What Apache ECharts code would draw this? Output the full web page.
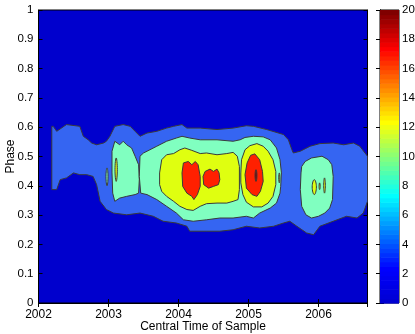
<!DOCTYPE html>
<html>
<head>
<meta charset="utf-8">
<script src="https://cdn.jsdelivr.net/npm/echarts@6/dist/echarts.min.js"></script>
<style>
  html, body { margin: 0; padding: 0; background: #fff; }
  #chart { width: 415px; height: 334px; }
</style>
</head>
<body>
<div id="chart"></div>
<script>
// contour outlines, [year, phase]
const contour1 = [[
  [2002.19, .603], [2002.21, .603], [2002.26, .586], [2002.40, .609], [2002.59, .603], [2002.64, .569],
  [2002.71, .557], [2002.76, .546], [2002.83, .540], [2002.93, .546], [2002.97, .552], [2003.02, .569],
  [2003.09, .603], [2003.21, .609], [2003.31, .603], [2003.38, .586], [2003.45, .569], [2003.55, .580],
  [2003.69, .586], [2003.83, .597], [2003.93, .603], [2004.05, .609], [2004.12, .597], [2004.31, .597],
  [2004.55, .592], [2004.78, .597], [2004.97, .605], [2005.07, .603], [2005.26, .592], [2005.50, .575],
  [2005.57, .557], [2005.62, .523], [2005.64, .512], [2005.74, .518], [2005.88, .535], [2006.02, .544],
  [2006.21, .546], [2006.36, .540], [2006.50, .546], [2006.59, .535], [2006.70, .501],
  [2006.70, .347], [2006.64, .307], [2006.55, .290], [2006.40, .296], [2006.21, .279], [2006.02, .262],
  [2005.93, .233], [2005.83, .239], [2005.69, .262], [2005.59, .279], [2005.50, .273], [2005.36, .262],
  [2005.16, .256], [2004.97, .262], [2004.78, .250], [2004.59, .245], [2004.40, .245], [2004.16, .245],
  [2004.12, .262], [2003.97, .273], [2003.78, .279], [2003.64, .296], [2003.45, .307], [2003.26, .301],
  [2003.07, .307], [2002.97, .319], [2002.88, .347], [2002.83, .404], [2002.78, .432], [2002.69, .438],
  [2002.59, .438], [2002.50, .444], [2002.40, .427], [2002.31, .421], [2002.26, .387], [2002.19, .387]
]]

const contour2 = [
  [[2003.05, .518], [2003.09, .552], [2003.16, .540], [2003.21, .552], [2003.26, .540], [2003.33, .529],
   [2003.38, .501], [2003.43, .472], [2003.44, .421], [2003.43, .375], [2003.38, .370], [2003.26, .364],
   [2003.16, .358], [2003.09, .347], [2003.06, .375], [2003.05, .444]],
  [[2003.45, .501], [2003.50, .512], [2003.55, .518], [2003.69, .535], [2003.83, .552], [2003.97, .563],
   [2004.05, .569], [2004.16, .563], [2004.31, .557], [2004.55, .557], [2004.78, .552], [2004.88, .557],
   [2004.95, .565], [2005.07, .569], [2005.21, .567], [2005.31, .557], [2005.40, .529], [2005.45, .489],
   [2005.47, .444], [2005.46, .398], [2005.45, .375], [2005.40, .341], [2005.31, .324], [2005.16, .307],
   [2005.07, .290], [2004.97, .296], [2004.78, .290], [2004.59, .290], [2004.40, .284], [2004.21, .279],
   [2004.07, .284], [2003.97, .307], [2003.83, .330], [2003.69, .353], [2003.55, .370], [2003.46, .375],
   [2003.44, .432]],
  [[2005.76, .466], [2005.81, .483], [2005.90, .495], [2006.05, .501], [2006.14, .489], [2006.19, .472],
   [2006.21, .432], [2006.20, .353], [2006.16, .324], [2006.09, .307], [2006.00, .296], [2005.90, .290],
   [2005.82, .301], [2005.76, .330], [2005.74, .387], [2005.75, .444]]
]

const contour3 = [
  [[2003.73, .444], [2003.76, .489], [2003.83, .506], [2003.93, .510], [2004.02, .523], [2004.09, .529],
   [2004.19, .521], [2004.31, .510], [2004.40, .512], [2004.55, .506], [2004.69, .510], [2004.78, .514],
   [2004.84, .501], [2004.87, .466], [2004.87, .387], [2004.85, .353], [2004.78, .347], [2004.69, .341],
   [2004.55, .341], [2004.40, .339], [2004.31, .330], [2004.21, .316], [2004.12, .319], [2004.02, .330],
   [2003.93, .347], [2003.83, .364], [2003.76, .381], [2003.73, .404]],
  [[2004.89, .444], [2004.90, .489], [2004.95, .523], [2005.02, .537], [2005.12, .544], [2005.21, .535],
   [2005.28, .518], [2005.35, .489], [2005.39, .449], [2005.39, .404], [2005.35, .364], [2005.28, .341],
   [2005.19, .328], [2005.07, .328], [2004.97, .344], [2004.92, .370], [2004.89, .410]]
]

const contour4 = [
  [[2004.07, .478], [2004.14, .483], [2004.19, .472], [2004.24, .483], [2004.28, .472], [2004.31, .432],
   [2004.31, .398], [2004.27, .370], [2004.22, .353], [2004.19, .364], [2004.12, .375], [2004.06, .398],
   [2004.05, .444]],
  [[2004.38, .449], [2004.45, .457], [2004.50, .449], [2004.55, .457], [2004.58, .444], [2004.59, .421],
   [2004.57, .404], [2004.50, .398], [2004.43, .392], [2004.36, .404], [2004.35, .432]],
  [[2005.03, .504], [2005.09, .509], [2005.16, .489], [2005.20, .449], [2005.21, .415], [2005.17, .381],
   [2005.12, .364], [2005.05, .370], [2004.97, .392], [2004.95, .438], [2004.98, .478]]
]

// small closed contours
const islands2 = [
  [[2002.964, .432], [2002.979, .461], [2002.993, .432], [2002.979, .400]]
]
const islands3 = [
  [[2003.093, .455], [2003.110, .495], [2003.126, .455], [2003.110, .415]],
  [[2005.432, .427], [2005.440, .444], [2005.448, .427], [2005.440, .410]],
  [[2005.910, .396], [2005.940, .421], [2005.970, .396], [2005.940, .370]],
  [[2006.008, .398], [2006.016, .410], [2006.024, .398], [2006.016, .387]],
  [[2006.074, .401], [2006.086, .427], [2006.098, .401], [2006.086, .375]]
]
const islands5 = [
  [[2005.093, .435], [2005.107, .455], [2005.121, .435], [2005.107, .415]]
]

const bgColor = '#0000cd'
const fillColors = ['#3565f2', '#80ffc0', '#dfff10', '#ff2000', '#8a0000']
const cbMax = 20
const cbSteps = 64

const font = "'Liberation Sans', Arial, Helvetica, sans-serif"

// jet colormap, bottom end kept a bit brighter like the picture
function jet(t) {
  const c = v => Math.round(255 * Math.max(0, Math.min(1, v)))
  let b = 1.5 - Math.abs(4 * t - 1)
  if (t < 0.125) b = 0.8 + 0.2 * t / 0.125
  return 'rgb(' + c(1.5 - Math.abs(4 * t - 3)) + ',' + c(1.5 - Math.abs(4 * t - 2)) + ',' + c(b) + ')'
}

function contourSeries(blobs, color, smooth) {
  return {
    type: 'custom',
    xAxisIndex: 0,
    yAxisIndex: 0,
    silent: true,
    data: blobs.map((b, i) => [b[0][0], b[0][1], i]),
    renderItem: function(params, api) {
      const pts = blobs[api.value(2)].map(p => api.coord(p))
      return {
        type: 'polygon',
        shape: { points: pts, smooth: smooth },
        style: { fill: color, stroke: '#3a3a3a', lineWidth: 1 }
      }
    }
  }
}

const tickStyle = { show: true, inside: true, length: 4, lineStyle: { color: '#000', width: 1 } }
const lineStyle = { show: true, lineStyle: { color: '#000', width: 1 } }

const chart = echarts.init(document.getElementById('chart'))
chart.setOption({
  animation: false,
  textStyle: { fontFamily: font },
  grid: [
    { left: 38.5, right: 47.5, top: 10, bottom: 31, outerBoundsMode: 'none', containLabel: false,
      show: true, backgroundColor: bgColor, borderColor: '#000', borderWidth: 1 },
    { left: 380, width: 19, top: 10, bottom: 31, outerBoundsMode: 'none', containLabel: false,
      show: true, borderColor: '#000', borderWidth: 1 }
  ],
  xAxis: [
    {
      gridIndex: 0, type: 'value', min: 2002, max: 2006.7, interval: 1,
      name: 'Central Time of Sample', nameLocation: 'middle', nameGap: 18, nameMoveOverlap: false,
      nameTextStyle: { fontSize: 12, color: '#000', fontFamily: font },
      axisLine: lineStyle, axisTick: tickStyle, splitLine: { show: false },
      axisLabel: {
        fontSize: 12, color: '#000', margin: 6, showMaxLabel: true,
        formatter: v => (Math.abs(v - Math.round(v)) < 1e-6 ? String(Math.round(v)) : '')
      }
    },
    {
      gridIndex: 0, type: 'value', position: 'top', min: 2002, max: 2006.7, interval: 1,
      axisLine: lineStyle, axisTick: tickStyle, axisLabel: { show: false }, splitLine: { show: false }
    },
    { gridIndex: 1, type: 'value', min: 0, max: 1, show: false }
  ],
  yAxis: [
    {
      gridIndex: 0, type: 'value', min: 0, max: 1, interval: 0.1,
      name: 'Phase', nameLocation: 'middle', nameGap: 22, nameRotate: 90, nameMoveOverlap: false,
      nameTextStyle: { fontSize: 12, color: '#000', fontFamily: font },
      axisLine: lineStyle, axisTick: tickStyle, splitLine: { show: false },
      axisLabel: { fontSize: 11.5, color: '#000', margin: 5, formatter: v => String(+v.toFixed(1)) }
    },
    {
      gridIndex: 0, type: 'value', position: 'right', min: 0, max: 1, interval: 0.1,
      axisLine: lineStyle, axisTick: tickStyle, axisLabel: { show: false }, splitLine: { show: false }
    },
    {
      gridIndex: 1, type: 'value', position: 'right', min: 0, max: cbMax, interval: 2,
      axisLine: lineStyle, axisTick: tickStyle, splitLine: { show: false },
      axisLabel: { fontSize: 11.5, color: '#000', margin: 3 }
    },
    {
      gridIndex: 1, type: 'value', position: 'left', min: 0, max: cbMax, interval: 2,
      axisLine: lineStyle, axisTick: tickStyle, axisLabel: { show: false }, splitLine: { show: false }
    }
  ],
  series: [
    contourSeries(contour1, fillColors[0], false),
    contourSeries(contour2, fillColors[1], false),
    contourSeries(islands2, fillColors[1], 0.5),
    contourSeries(contour3, fillColors[2], false),
    contourSeries(islands3, fillColors[2], 0.5),
    contourSeries(contour4, fillColors[3], false),
    contourSeries(islands5, fillColors[4], 0.5),
    {
      type: 'custom',
      xAxisIndex: 2,
      yAxisIndex: 2,
      silent: true,
      data: Array.from({ length: cbSteps }, (_, i) => [0, i * cbMax / cbSteps, i]),
      renderItem: function(params, api) {
        const i = api.value(2)
        const p0 = api.coord([0, i * cbMax / cbSteps])
        const p1 = api.coord([1, (i + 1) * cbMax / cbSteps])
        return {
          type: 'rect',
          shape: { x: p0[0], y: p1[1], width: p1[0] - p0[0], height: p0[1] - p1[1] + 0.6 },
          style: { fill: jet((i + 1) / cbSteps) }
        }
      }
    }
  ]
})
</script>
</body>
</html>
